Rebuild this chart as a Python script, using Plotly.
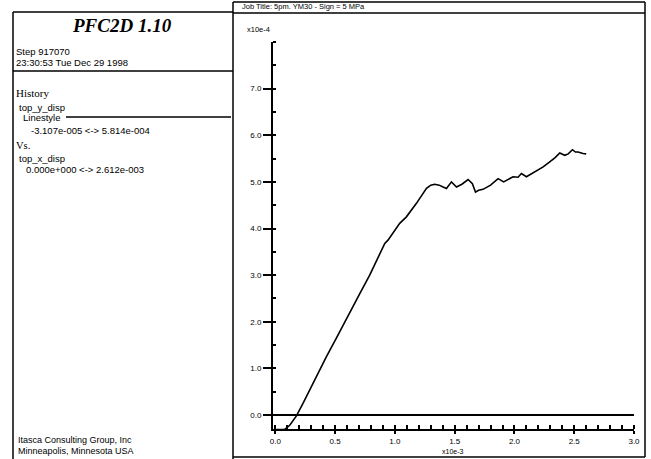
import plotly.graph_objects as go

# Data (x in units of 1e-3, y in units of 1e-4)
top_x_disp = [0.0, 0.04, 0.078, 0.12, 0.176, 0.231, 0.315, 0.37, 0.427, 0.51, 0.56, 0.608,
              0.705, 0.789, 0.85, 0.915, 0.942, 1.0, 1.04, 1.096, 1.18, 1.264, 1.30, 1.333,
              1.37, 1.403, 1.431, 1.473, 1.515, 1.56, 1.612, 1.648, 1.674, 1.70, 1.737,
              1.80, 1.863, 1.91, 1.95, 1.988, 2.03, 2.058, 2.10, 2.14, 2.184, 2.24, 2.295,
              2.34, 2.379, 2.421, 2.45, 2.485, 2.51, 2.532, 2.574, 2.60]
top_y_disp = [-0.31, -0.31, -0.31, -0.22, -0.02, 0.25, 0.68, 0.97, 1.25, 1.65, 1.9, 2.14,
              2.6, 3.0, 3.33, 3.68, 3.75, 3.95, 4.11, 4.25, 4.54, 4.86, 4.93, 4.95,
              4.93, 4.89, 4.86, 5.0, 4.89, 4.95, 5.05, 4.96, 4.78, 4.82, 4.84,
              4.93, 5.07, 5.0, 5.06, 5.11, 5.1, 5.18, 5.11, 5.17, 5.23, 5.32, 5.43,
              5.52, 5.62, 5.57, 5.6, 5.69, 5.64, 5.64, 5.61, 5.6]

x_ticks = [0.0, 0.5, 1.0, 1.5, 2.0, 2.5, 3.0]
y_ticks = [0.0, 1.0, 2.0, 3.0, 4.0, 5.0, 6.0, 7.0]

W, H = 651, 459
L, R, T, B = 273, 17, 42, 30
PW, PH = W - L - R, H - T - B


def px(x):
    return (x - L) / PW


def py(y):
    return (H - B - y) / PH


fig = go.Figure()
fig.add_trace(go.Scatter(x=top_x_disp, y=top_y_disp, mode="lines",
                         line=dict(color="black", width=1.6), showlegend=False))

tickfont = dict(family="Liberation Sans, Arial", size=8, color="black")
fig.update_xaxes(range=[-0.02, 3.0], tickvals=x_ticks,
                 ticktext=[f"{v:.1f}" for v in x_ticks],
                 showline=True, linecolor="black", linewidth=2,
                 ticks="outside", ticklen=3, tickwidth=1.5, tickcolor="black",
                 minor=dict(dtick=0.1, ticks="inside", ticklen=4, tickcolor="black", showgrid=False),
                 showgrid=False, zeroline=False, tickfont=tickfont, fixedrange=True)
fig.update_yaxes(range=[-0.3, 8.0], tickvals=y_ticks,
                 ticktext=[f"{v:.1f}" for v in y_ticks],
                 showline=True, linecolor="black", linewidth=2,
                 ticks="outside", ticklen=8, tickwidth=1.5, tickcolor="black",
                 minor=dict(dtick=0.5, tick0=0, ticks="inside", ticklen=3, tickcolor="black", showgrid=False),
                 showgrid=False, zeroline=True, zerolinecolor="black", zerolinewidth=2,
                 tickfont=tickfont, fixedrange=True)

shapes = []


def line(x0, y0, x1, y1, w=1.5):
    shapes.append(dict(type="line", xref="paper", yref="paper",
                       x0=px(x0), y0=py(y0), x1=px(x1), y1=py(y1),
                       line=dict(color="black", width=w)))


# Right panel border
line(233, 2, 645, 2)
line(233, 13, 645, 13)
line(645, 2, 645, 457)
line(233, 457, 645, 457)
line(233, 2, 233, 459)
# Left panel border
line(13, 12, 233, 12)
line(13, 12, 13, 459)
line(13, 71, 233, 71)
# Linestyle sample line
line(66, 117, 231, 117, 1.5)

font = "Liberation Sans, Arial"
ann = []


def text(s, x, y, size=9.5, fam=font, xanchor="left"):
    ann.append(dict(text=s, x=px(x), y=py(y), xref="paper", yref="paper",
                    xanchor=xanchor, yanchor="middle", showarrow=False,
                    font=dict(family=fam, size=size, color="black")))


text("<b><i>PFC2D 1.10</i></b>", 122, 25, size=19, fam="Liberation Serif, Times New Roman", xanchor="center")
text("Step 917070", 14, 51)
text("23:30:53 Tue Dec 29 1998", 14, 62)
text("History", 14, 93, size=11, fam="Liberation Serif, Times New Roman")
text("top_y_disp", 17, 107)
text("Linestyle", 21, 117)
text("-3.107e-005 &lt;-&gt; 5.814e-004", 29, 130)
text("Vs.", 14, 145, size=10.5, fam="Liberation Serif, Times New Roman")
text("top_x_disp", 17, 158)
text("0.000e+000 &lt;-&gt; 2.612e-003", 24, 169)
text("Itasca Consulting Group, Inc", 16, 440, size=9)
text("Minneapolis, Minnesota USA", 16, 451, size=9)
text("Job Title: 5pm. YM30 - Sign = 5 MPa", 240, 7, size=7.5)
text("x10e-4", 245, 29, size=7.5)
text("x10e-3", 453, 451, size=7, xanchor="center")

fig.update_layout(width=W, height=H, autosize=False,
                  margin=dict(l=L, r=R, t=T, b=B, pad=0),
                  paper_bgcolor="white", plot_bgcolor="white",
                  shapes=shapes, annotations=ann, showlegend=False)

fig.write_html("out.html")
